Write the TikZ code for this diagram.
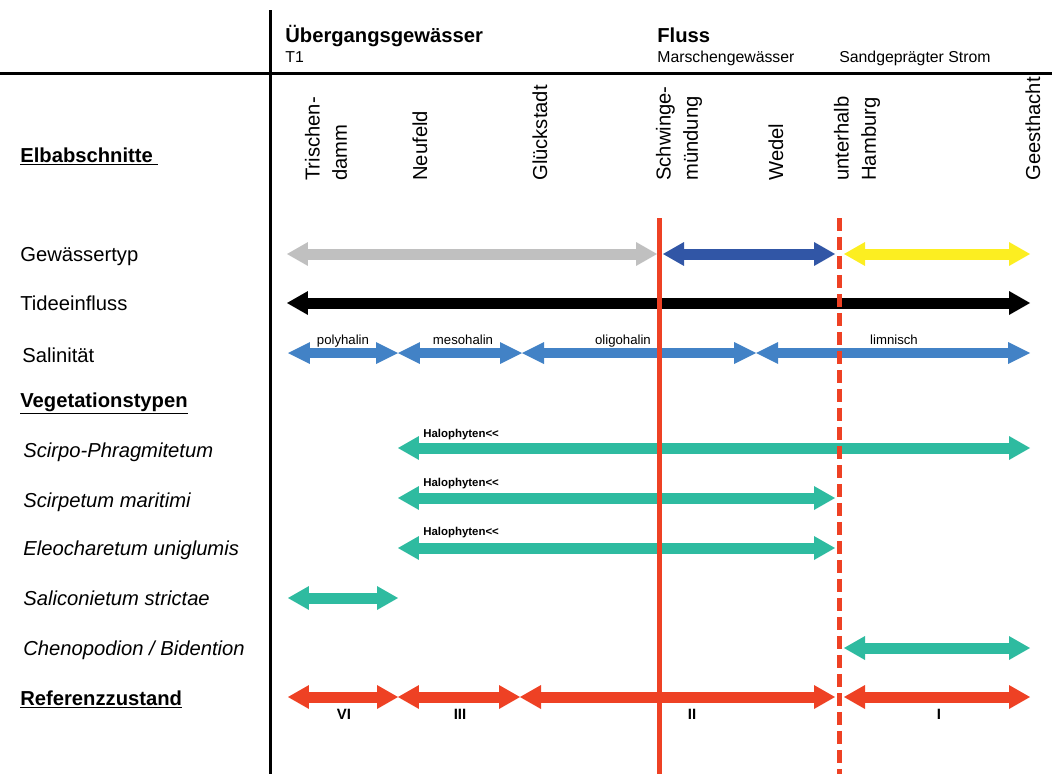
\documentclass[tikz,border=0pt]{standalone}
\usepackage{fontspec}
\setmainfont{Liberation Sans}
\usetikzlibrary{arrows.meta,positioning}

\definecolor{typGrau}{RGB}{192,192,192}
\definecolor{typBlau}{RGB}{49,86,166}
\definecolor{typGelb}{RGB}{252,238,33}
\definecolor{salBlau}{RGB}{66,130,198}
\definecolor{vegGruen}{RGB}{46,187,160}
\definecolor{refRot}{RGB}{238,65,36}

\tikzstyle{bigArrow} = [line width=0.22cm, {Triangle[width=0.48cm,length=0.42cm,line width=0pt]}-{Triangle[width=0.48cm,length=0.42cm,line width=0pt]}]
\tikzstyle{salArrow} = [line width=0.19cm, {Triangle[width=0.44cm,length=0.44cm,line width=0pt]}-{Triangle[width=0.44cm,length=0.44cm,line width=0pt]}]
\tikzstyle{rowLabel} = [anchor=base west, inner sep=0pt, font=\fontsize{11.5}{14}\selectfont]
\tikzstyle{headBig} = [anchor=base west, inner sep=0pt, font=\fontsize{11.5}{14}\selectfont\bfseries]
\tikzstyle{headSmall} = [anchor=base west, inner sep=0pt, font=\fontsize{9}{11}\selectfont]
\tikzstyle{ortLabel} = [rotate=90, anchor=west, align=left, inner sep=0pt, font=\fontsize{11.5}{15.4}\selectfont]
\tikzstyle{salLabel} = [anchor=base, inner sep=0pt, font=\fontsize{7.5}{9}\selectfont]
\tikzstyle{haloLabel} = [anchor=base west, inner sep=0pt, font=\fontsize{6.5}{8}\selectfont\bfseries]
\tikzstyle{refLabel} = [anchor=base, inner sep=0pt, font=\fontsize{8.5}{10}\selectfont\bfseries]

\begin{document}
\begin{tikzpicture}[x=0.02cm, y=-0.02cm]
  \useasboundingbox (0,0) rectangle (1052,774);
  % Rahmen
  \draw[black,line width=0.06cm] (0,73) -- (1052,73);
  \draw[black,line width=0.06cm] (270,10) -- (270,774);
  % Kopfzeile
  \node[headBig] (uebergang) at (285,42) {Übergangsgewässer};
  \node[headSmall] (tEins) at (285,62) {T1};
  \node[headBig] (fluss) at (657,42) {Fluss};
  \node[headSmall] (marsch) at (657,62) {Marschengewässer};
  \node[headSmall] (sand) at (839,62) {Sandgeprägter Strom};
  % Elbabschnitte
  \node[ortLabel] (trischen) at (326,181) {Trischen-\\damm};
  \node[ortLabel] (neufeld) at (420,181) {Neufeld};
  \node[ortLabel] (glueck) at (540,181) {Glückstadt};
  \node[ortLabel] (schwinge) at (679,181) {Schwinge-\\mündung};
  \node[ortLabel] (wedel) at (776,181) {Wedel};
  \node[ortLabel] (hamburg) at (857,181) {unterhalb\\Hamburg};
  \node[ortLabel] (geest) at (1033,181) {Geesthacht};
  % Zeilen links
  \node[rowLabel] (elbab) at (20,162) {\underline{\textbf{Elbabschnitte}\ }};
  \node[rowLabel] (gewtyp) at (20,261) {Gewässertyp};
  \node[rowLabel] (tide) at (20,310) {Tideeinfluss};
  \node[rowLabel] (salin) at (22,362) {Salinität};
  \node[rowLabel] (vegtyp) at (20,407) {\underline{\textbf{Vegetationstypen}}};
  \node[rowLabel] (scirpo) at (23,457) {\itshape Scirpo-Phragmitetum};
  \node[rowLabel] (scirpet) at (23,507) {\itshape Scirpetum maritimi};
  \node[rowLabel] (eleo) at (23,555) {\itshape Eleocharetum uniglumis};
  \node[rowLabel] (salic) at (23,605) {\itshape Saliconietum strictae};
  \node[rowLabel] (cheno) at (23,655) {\itshape Chenopodion / Bidention};
  \node[rowLabel] (refz) at (20,705) {\underline{\textbf{Referenzzustand}}};
  % Gewaessertyp
  \draw[bigArrow,typGrau] (287,254) -- (657,254);
  \draw[bigArrow,typBlau] (663,254) -- (835,254);
  \draw[bigArrow,typGelb] (844,254) -- (1030,254);
  % Tide
  \draw[bigArrow,black] (287,303) -- (1030,303);
  % Salinitaet
  \draw[salArrow,salBlau] (288,353) -- (398,353);
  \draw[salArrow,salBlau] (398,353) -- (522,353);
  \draw[salArrow,salBlau] (522,353) -- (756,353);
  \draw[salArrow,salBlau] (756,353) -- (1030,353);
  \node[salLabel] (poly) at (343,344) {polyhalin};
  \node[salLabel] (meso) at (463,344) {mesohalin};
  \node[salLabel] (oligo) at (623,344) {oligohalin};
  \node[salLabel] (limn) at (894,344) {limnisch};
  % Vegetation
  \draw[bigArrow,vegGruen] (398,448) -- (1030,448);
  \draw[bigArrow,vegGruen] (398,498) -- (835,498);
  \draw[bigArrow,vegGruen] (398,548) -- (835,548);
  \draw[bigArrow,vegGruen] (288,598) -- (398,598);
  \draw[bigArrow,vegGruen] (844,648) -- (1030,648);
  \foreach \y/\n in {437/haloA,486/haloB,535/haloC}
    \node[haloLabel] (\n) at (423,\y) {Halophyten<{}<};
  % Referenzzustand
  \draw[bigArrow,refRot] (288,697) -- (398,697);
  \draw[bigArrow,refRot] (398,697) -- (520,697);
  \draw[bigArrow,refRot] (520,697) -- (835,697);
  \draw[bigArrow,refRot] (844,697) -- (1030,697);
  \node[refLabel] (rVI) at (344,719) {VI};
  \node[refLabel] (rIII) at (460,719) {III};
  \node[refLabel] (rII) at (692,719) {II};
  \node[refLabel] (rI) at (939,719) {I};
  % Grenzen
  \draw[refRot,line width=0.1cm] (659,218) -- (659,774);
  \draw[refRot,line width=0.1cm,dash pattern=on 0.26cm off 0.12cm] (839,218) -- (839,774);
\end{tikzpicture}
\end{document}
